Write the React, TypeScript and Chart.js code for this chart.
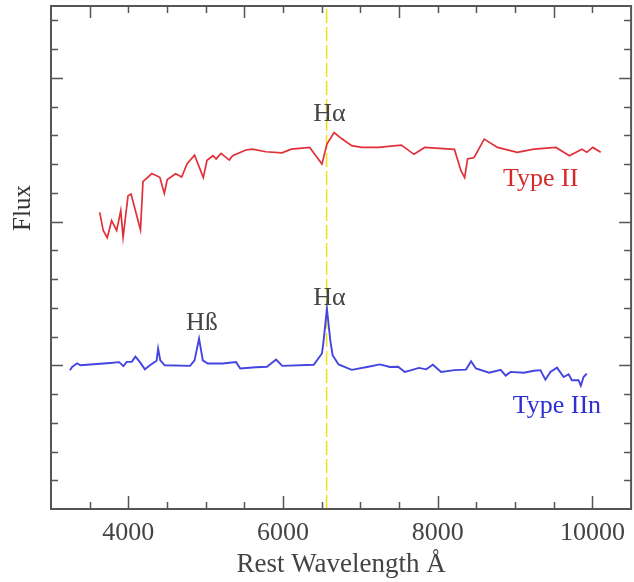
import React, { useEffect, useRef } from "react";
import { Chart, registerables } from "chart.js";

Chart.register(...registerables);

// ---- Data ----
const typeIIWavelength = [
  3630, 3675, 3727, 3784, 3849, 3902, 3932, 3996, 4035, 4157,
  4189, 4304, 4407, 4465, 4503, 4612, 4689, 4760, 4856, 4969,
  5017, 5094, 5135, 5199, 5305, 5348, 5520, 5605, 5777, 5986,
  6108, 6345, 6503, 6567, 6660, 6760, 6888, 7017, 7231, 7530,
  7693, 7831, 8216, 8300, 8348, 8386, 8470, 8601, 8772, 9028,
  9243, 9529, 9702, 9863, 9927, 10004, 10107,
];
const typeIIFlux = [
  5.32, 4.69, 4.44, 5.03, 4.69, 5.38, 4.45, 5.9, 5.96, 4.71,
  6.39, 6.67, 6.54, 5.98, 6.46, 6.66, 6.55, 7.01, 7.31, 6.53,
  7.13, 7.29, 7.18, 7.37, 7.14, 7.29, 7.49, 7.52, 7.43, 7.39,
  7.52, 7.58, 7.0, 7.7, 8.1, 7.88, 7.64, 7.58, 7.58, 7.66,
  7.34, 7.58, 7.51, 6.77, 6.53, 7.18, 7.23, 7.87, 7.58, 7.41,
  7.52, 7.58, 7.29, 7.52, 7.41, 7.58, 7.41,
];
const typeIInWavelength = [
  3245, 3273, 3338, 3380, 3765, 3881, 3936, 3979, 4044, 4092,
  4150, 4214, 4279, 4365, 4385, 4413, 4471, 4798, 4856, 4914,
  4963, 5027, 5220, 5392, 5447, 5648, 5793, 5909, 5990, 6397,
  6503, 6525, 6567, 6611, 6641, 6718, 6888, 7103, 7253, 7381,
  7488, 7574, 7659, 7757, 7851, 7937, 8044, 8216, 8365, 8431,
  8493, 8665, 8814, 8878, 8942, 9114, 9243, 9327, 9392, 9456,
  9542, 9628, 9692, 9734, 9820, 9850, 9885, 9927,
];
const typeIInFlux = [
  -0.17, -0.06, 0.07, 0, 0.08, 0.11, -0.03, 0.12, 0.12, 0.3,
  0.11, -0.14, 0, 0.16, 0.58, 0.17, 0, -0.02, 0.17, 0.93,
  0.17, 0.06, 0.06, 0.11, -0.11, -0.07, -0.05, 0.2, -0.02, 0.02,
  0.41, 0.87, 1.97, 0.87, 0.35, 0.03, -0.16, -0.05, 0.03, -0.06,
  -0.05, -0.23, -0.17, -0.09, -0.14, 0.02, -0.23, -0.17, -0.15, 0.14,
  -0.11, -0.26, -0.16, -0.36, -0.23, -0.26, -0.19, -0.17, -0.5, -0.23,
  -0.08, -0.41, -0.31, -0.52, -0.52, -0.71, -0.41, -0.29,
];
const hAlphaWavelength = [6563, 6563];
const hAlphaFlux = [-5, 12.5];

const xTickValues = [4000, 6000, 8000, 10000];
const xMinorTicks = [3500, 4000, 4500, 5000, 5500, 6000, 6500, 7000, 7500, 8000, 8500, 9000, 9500, 10000];
const yMinorTicks = [-4, -3, -2, -1, 0, 1, 2, 3, 4, 5, 6, 7, 8, 9, 10, 11, 12];

const annotationText = ["Hα", "Type II", "Hß", "Hα", "Type IIn"];
const annotationX = [6600, 9330, 4950, 6600, 9540];
const annotationY = [8.5, 6.24, 1.23, 2.1, -1.66];
const annotationColor = ["#444444", "#d42a2a", "#444444", "#444444", "#2e2ed2"];

const SERIF = "'Liberation Serif', 'Times New Roman', serif";

const toPoints = (xs: number[], ys: number[]) => xs.map((x, i) => ({ x, y: ys[i] }));

const framePlugin = {
  id: "frameTicks",
  afterDatasetsDraw(chart: any) {
    const { ctx, chartArea, scales } = chart;
    const { left, right, top, bottom } = chartArea;
    const xs = scales.x;
    const ys = scales.y;
    ctx.save();
    ctx.strokeStyle = "#555555";
    ctx.lineWidth = 1.5;
    ctx.beginPath();
    xMinorTicks.forEach((v) => {
      const px = Math.round(xs.getPixelForValue(v)) + 0.5;
      const bl = v % 2000 === 0 ? 13 : 7;
      ctx.moveTo(px, bottom);
      ctx.lineTo(px, bottom - bl);
      const tl = (v - 3500) % 2000 === 0 ? 12 : 7;
      ctx.moveTo(px, top);
      ctx.lineTo(px, top + tl);
    });
    yMinorTicks.forEach((v) => {
      const py = Math.round(ys.getPixelForValue(v)) + 0.5;
      const l = v % 5 === 0 ? 12 : 7;
      ctx.moveTo(left, py);
      ctx.lineTo(left + l, py);
      ctx.moveTo(right, py);
      ctx.lineTo(right - l, py);
    });
    ctx.stroke();
    ctx.lineWidth = 2;
    ctx.strokeRect(left, top, right - left, bottom - top);

    // annotations
    ctx.textAlign = "center";
    ctx.textBaseline = "alphabetic";
    annotationText.forEach((t, i) => {
      ctx.font = `26px ${SERIF}`;
      ctx.fillStyle = annotationColor[i];
      ctx.fillText(t, xs.getPixelForValue(annotationX[i]), ys.getPixelForValue(annotationY[i]));
    });

    // y-axis title
    ctx.save();
    ctx.translate(23, 208);
    ctx.rotate(-Math.PI / 2);
    ctx.font = `25px ${SERIF}`;
    ctx.fillStyle = "#333333";
    ctx.textAlign = "center";
    ctx.textBaseline = "middle";
    ctx.fillText("Flux", 0, 0);
    ctx.restore();
    ctx.restore();
  },
};

export default function App() {
  const canvasRef = useRef<HTMLCanvasElement | null>(null);

  useEffect(() => {
    if (!canvasRef.current) return;
    const chart = new Chart(canvasRef.current, {
      type: "scatter",
      data: {
        datasets: [
          {
            data: toPoints(typeIIWavelength, typeIIFlux),
            showLine: true,
            borderColor: "#e0303a",
            borderWidth: 1.7,
            pointRadius: 0,
            tension: 0,
            order: 1,
          },
          {
            data: toPoints(typeIInWavelength, typeIInFlux),
            showLine: true,
            borderColor: "#4444e0",
            borderWidth: 1.9,
            pointRadius: 0,
            tension: 0,
            order: 2,
          },
          {
            data: toPoints(hAlphaWavelength, hAlphaFlux),
            showLine: true,
            borderColor: "#ece21a",
            borderWidth: 1.5,
            borderDash: [14, 4],
            pointRadius: 0,
            order: 3,
          },
        ],
      },
      options: {
        animation: false,
        responsive: false,
        events: [],
        layout: { padding: { top: 6, right: 1, left: 0, bottom: 0 } },
        plugins: { legend: { display: false }, tooltip: { enabled: false } },
        scales: {
          x: {
            type: "linear",
            min: 3000,
            max: 10500,
            afterBuildTicks: (s: any) => {
              s.ticks = xTickValues.map((v) => ({ value: v }));
            },
            afterFit: (s: any) => {
              s.height = 73;
            },
            ticks: {
              font: { family: SERIF, size: 26 },
              color: "#444444",
              padding: 9,
              maxRotation: 0,
              autoSkip: false,
              callback: (v: any) => String(v),
            },
            grid: { display: false, drawTicks: false },
            border: { display: false },
            title: {
              display: true,
              text: "Rest Wavelength Å",
              font: { family: SERIF, size: 27 },
              color: "#444444",
              padding: { top: 0, bottom: 1 },
            },
          },
          y: {
            type: "linear",
            min: -5,
            max: 12.5,
            afterFit: (s: any) => {
              s.width = 51;
            },
            ticks: { display: false },
            grid: { display: false, drawTicks: false },
            border: { display: false },
          },
        },
      },
      plugins: [framePlugin],
    } as any);
    return () => chart.destroy();
  }, []);

  return (
    <div style={{ position: "fixed", left: 0, top: 0, width: 634, height: 582, background: "#fff" }}>
      <canvas ref={canvasRef} width={634} height={582} style={{ width: 634, height: 582, display: "block" }} />
    </div>
  );
}
